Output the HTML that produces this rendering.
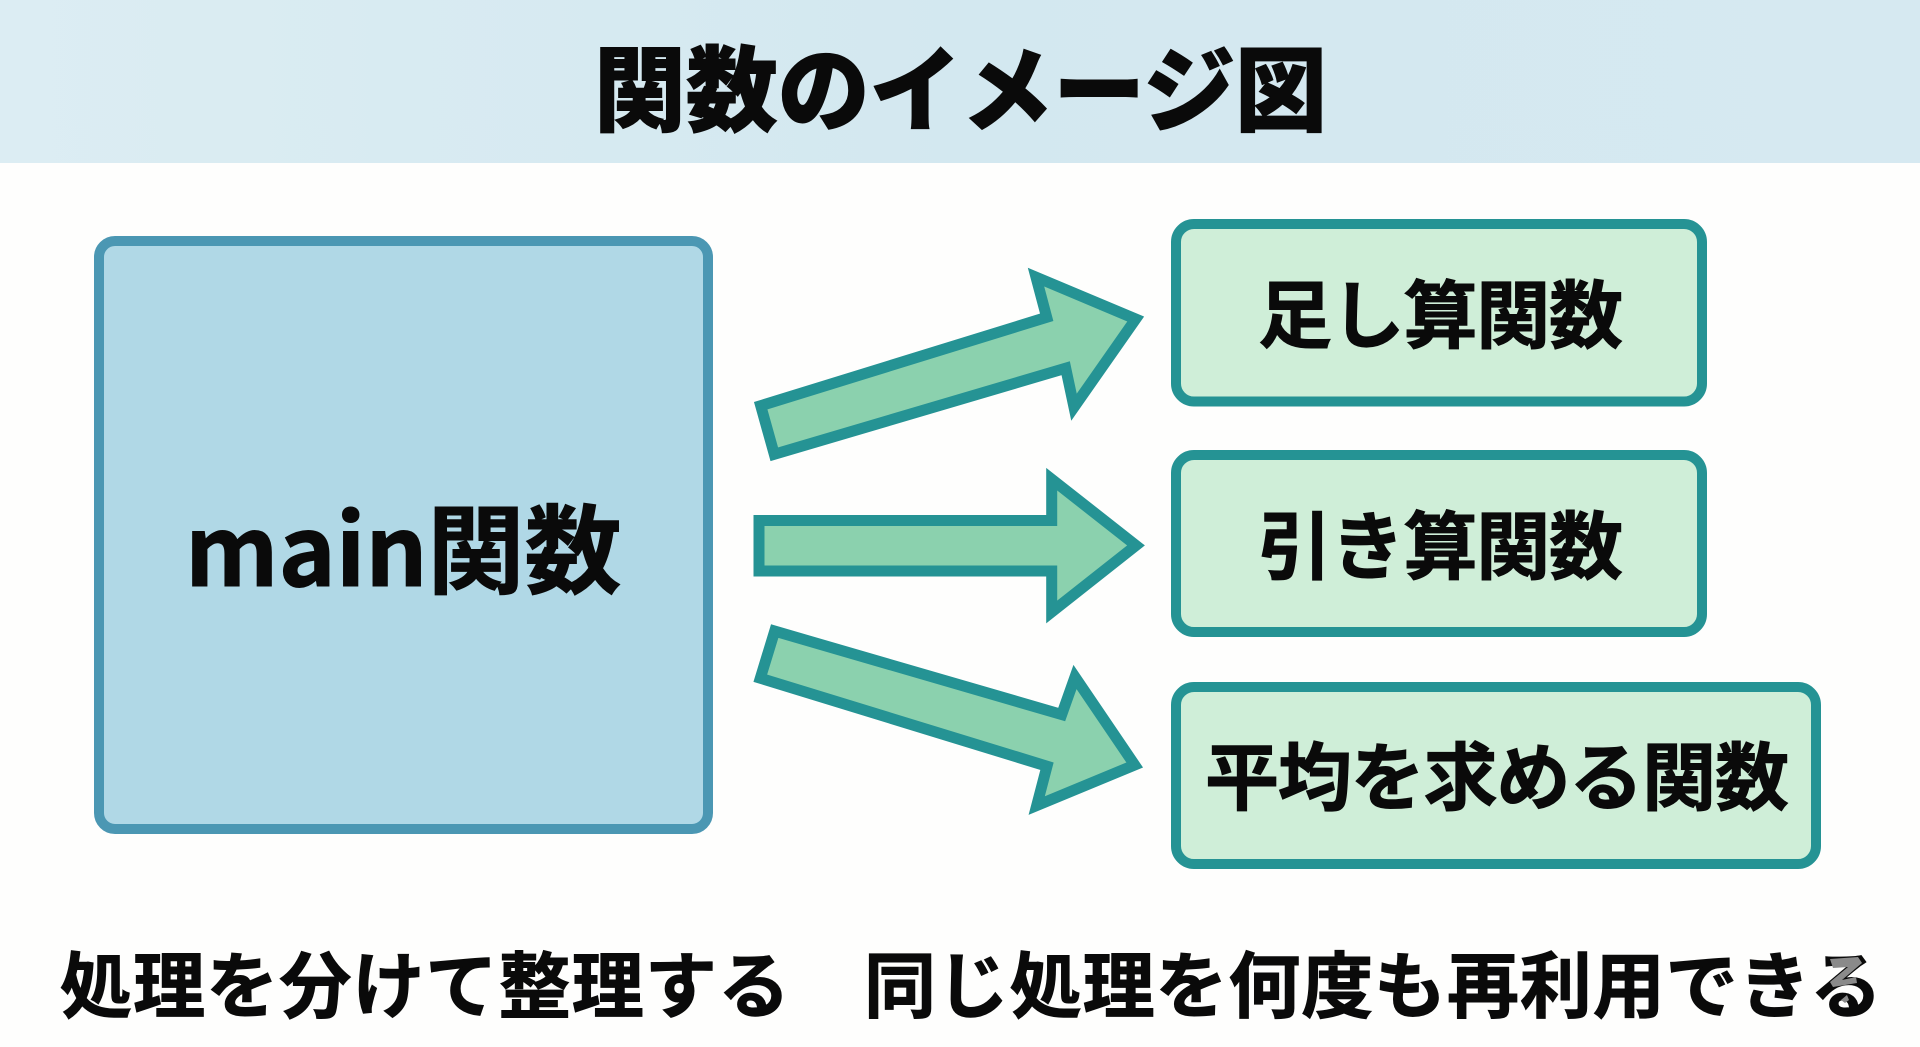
<!DOCTYPE html>
<html lang="ja"><head><meta charset="utf-8"><title>関数のイメージ図</title>
<style>
html,body{margin:0;padding:0;width:1920px;height:1047px;overflow:hidden;background:#fefefd}
svg{display:block}
text{font-family:"Liberation Sans","Noto Sans CJK JP",sans-serif;fill:#0a0a0a;font-weight:700}
.n{font-family:"Noto Sans CJK JP",sans-serif;stroke:#0a0a0a;stroke-width:1}
</style></head><body>
<svg width="1920" height="1047" viewBox="0 0 1920 1047" xmlns="http://www.w3.org/2000/svg">
<defs><linearGradient id="h" x1="0" x2="1" y1="0" y2="0">
<stop offset="0" stop-color="#dcedf3"/><stop offset=".5" stop-color="#d3e8f0"/><stop offset="1" stop-color="#d6e9f1"/></linearGradient></defs>
<rect width="1920" height="1047" fill="#fefefd"/>
<rect width="1920" height="163" fill="url(#h)"/>
<text class="n" x="594" y="124" font-size="93" textLength="733" lengthAdjust="spacingAndGlyphs" style="font-weight:900">関数のイメージ図</text>

<rect x="99" y="241" width="609" height="588" rx="16" fill="#b0d8e6" stroke="#4b97b3" stroke-width="10"/>
<text class="n" x="185" y="586" font-size="97">main関数</text>

<g fill="#cfeed8" stroke="#259394" stroke-width="10">
<rect x="1176" y="224" width="526" height="177.5" rx="18"/>
<rect x="1176" y="455" width="526" height="177" rx="18"/>
<rect x="1176" y="687" width="640" height="177" rx="18"/>
</g>
<g font-size="74">
<text class="n" x="1258" y="342" textLength="365">足し算関数</text>
<text class="n" x="1258" y="573" textLength="365">引き算関数</text>
<text class="n" x="1205" y="804" textLength="584">平均を求める関数</text>
</g>

<g fill="#8bd1ae" stroke="#259394" stroke-width="11" stroke-linejoin="miter" stroke-miterlimit="10">
<polygon points="760.7,405.7 774.3,454.3 1065.7,368.2 1074,407.2 1135.7,319 1036,277.1 1046.7,317.3"/>
<polygon points="759,520.5 759,571 1051.7,571 1051.7,612 1136,545.4 1051.7,479.2 1051.7,520.5"/>
<polygon points="774.7,631.1 760.3,678.2 1047,766.2 1036.7,805.6 1134.7,765 1075,677 1061.7,714.5"/>
</g>

<g font-size="72">
<text class="n" x="60" y="1012" textLength="730">処理を分けて整理する</text>
<text class="n" x="864" y="1012" textLength="1018">同じ処理を何度も再利用できる</text>
</g>
<polygon points="1830,959 1858,957 1862,963 1842,980 1856,977 1857,983 1833,987 1830,982 1848,967 1833,968" fill="#8a8a8a"/>
<polygon points="1841,1000 1847,995 1849,1000 1845,1003" fill="#8a8a8a"/>
</svg>
</body></html>
